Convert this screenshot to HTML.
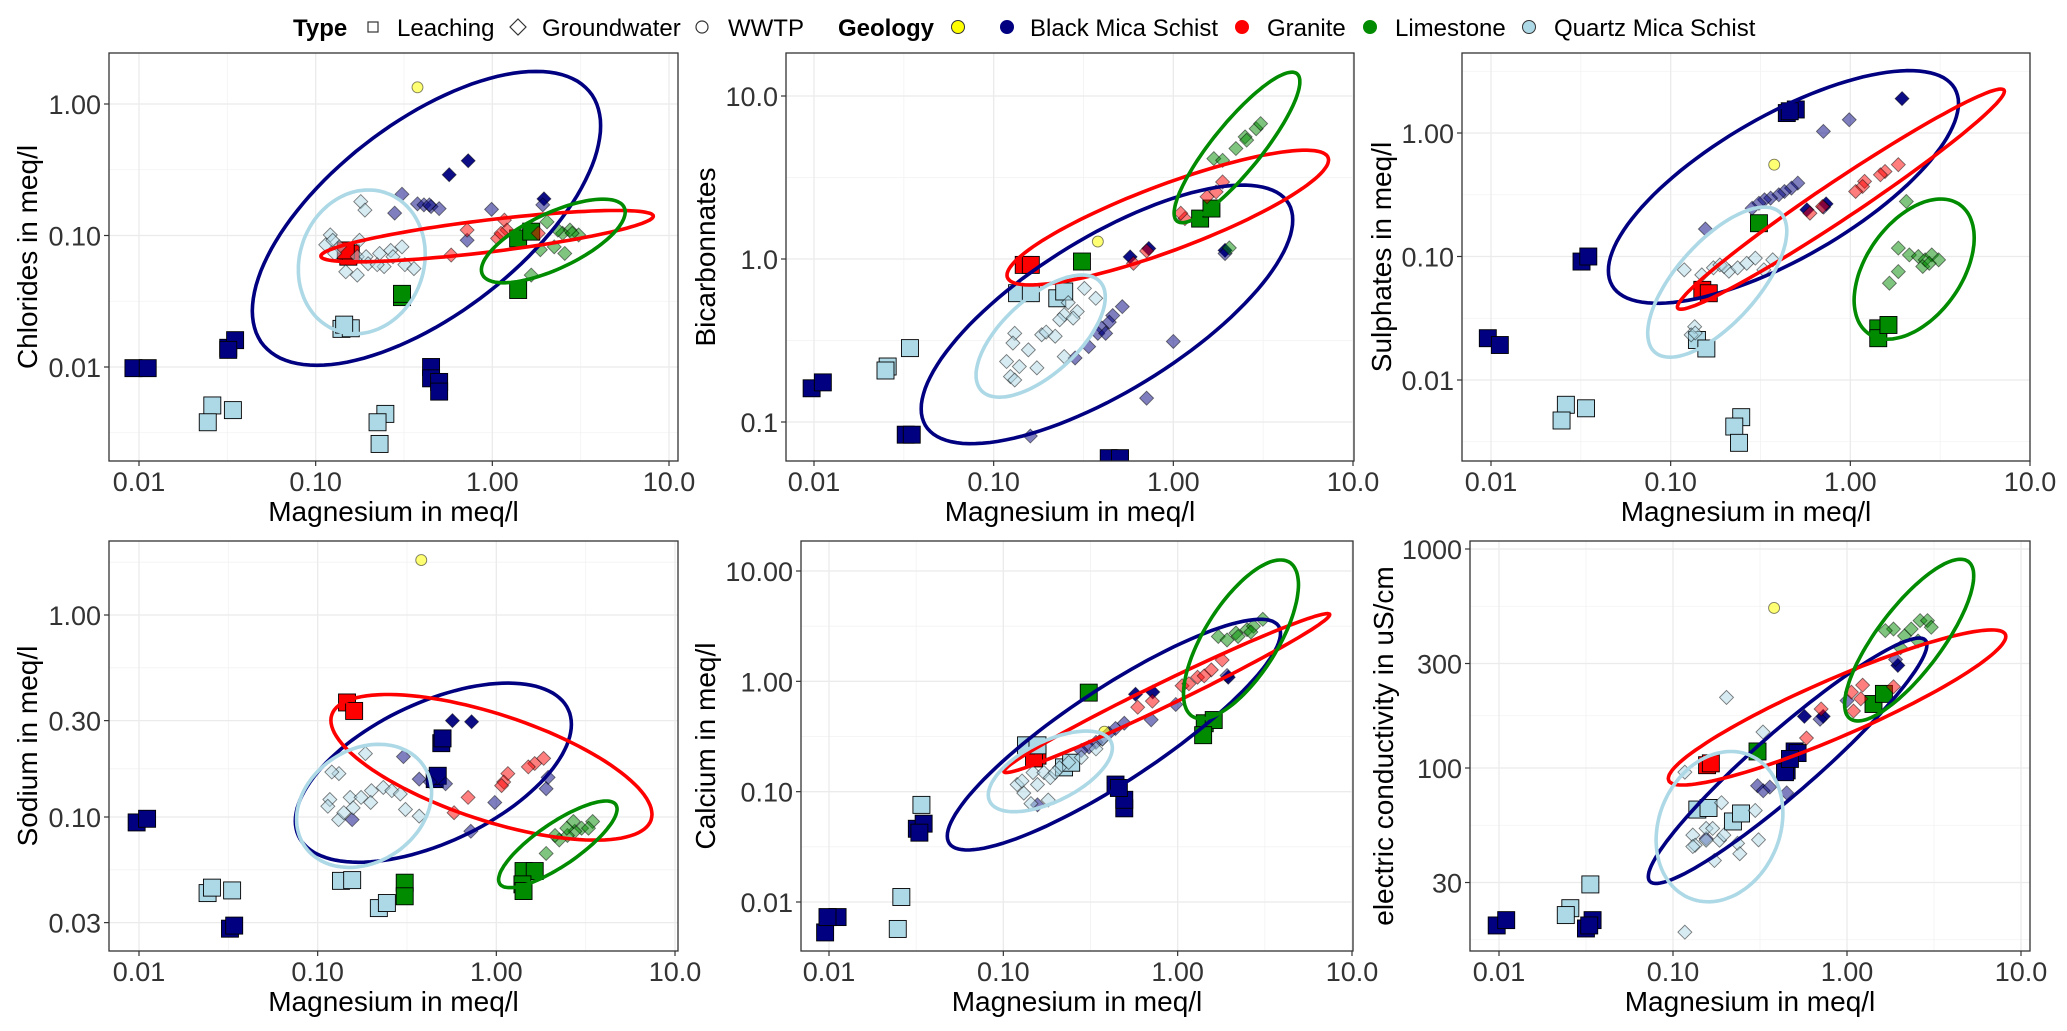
<!DOCTYPE html>
<html><head><meta charset="utf-8">
<style>
html,body{margin:0;padding:0;background:#fff;}
svg{display:block;font-family:"Liberation Sans",Arial,sans-serif;}
</style></head>
<body>
<svg id="chart" width="2067" height="1031" viewBox="0 0 2067 1031" xmlns="http://www.w3.org/2000/svg">
<rect x="0" y="0" width="2067" height="1031" fill="#fff"/>
<g id="legend">
  <text x="293" y="36" font-size="24" font-weight="bold" fill="#000">Type</text>
  <rect x="368" y="22" width="10" height="10" fill="none" stroke="#333" stroke-width="1.2"/>
  <text x="397" y="36" font-size="24" fill="#000">Leaching</text>
  <path d="M518 19 L526 27 L518 35 L510 27 Z" fill="none" stroke="#333" stroke-width="1.2"/>
  <text x="542" y="36" font-size="24" fill="#000">Groundwater</text>
  <circle cx="702" cy="27" r="6" fill="none" stroke="#333" stroke-width="1.2"/>
  <text x="728" y="36" font-size="24" fill="#000">WWTP</text>
  <text x="838" y="36" font-size="24" font-weight="bold" fill="#000">Geology</text>
  <circle cx="958" cy="27" r="6.5" fill="#FFFF00" stroke="#333" stroke-width="1"/>
  <circle cx="1007" cy="27" r="6.5" fill="#000080" stroke="#000080"/>
  <text x="1030" y="36" font-size="24" fill="#000">Black Mica Schist</text>
  <circle cx="1242" cy="27" r="6.5" fill="#FF0000" stroke="#FF0000"/>
  <text x="1267" y="36" font-size="24" fill="#000">Granite</text>
  <circle cx="1370" cy="27" r="6.5" fill="#008B00" stroke="#008B00"/>
  <text x="1395" y="36" font-size="24" fill="#000">Limestone</text>
  <circle cx="1529" cy="27" r="6.5" fill="#ADD8E6" stroke="#333" stroke-width="1"/>
  <text x="1554" y="36" font-size="24" fill="#000">Quartz Mica Schist</text>
</g>
</svg>
<script>
// ---------- DATA (Mg in meq/l vs. y variable), geology: B navy, D navy (dense), R granite, G limestone, Q quartz ----------
const chlLeach = [[0.0093,0.0098,'B'],[0.0112,0.0098,'B'],[0.032,0.014,'B'],[0.035,0.016,'B'],[0.032,0.0135,'B'],[0.45,0.010,'B'],[0.45,0.0082,'B'],[0.50,0.0077,'B'],[0.50,0.0065,'B'],
[0.026,0.0051,'Q'],[0.0245,0.0038,'Q'],[0.034,0.0047,'Q'],[0.248,0.0044,'Q'],[0.224,0.0038,'Q'],[0.23,0.0026,'Q'],[0.14,0.0195,'Q'],[0.158,0.0197,'Q'],[0.145,0.021,'Q'],
[0.153,0.069,'R'],[0.158,0.073,'R'],[0.148,0.077,'R'],
[0.308,0.034,'G'],[0.308,0.036,'G'],[1.40,0.0385,'G'],[1.40,0.095,'G'],[1.66,0.107,'G']];
const chlGw = [[0.57,0.29,'D'],[0.73,0.37,'D'],[1.96,0.19,'D'],
[0.308,0.206,'B'],[0.28,0.148,'B'],[0.377,0.174,'B'],[0.41,0.171,'B'],[0.45,0.166,'B'],[0.50,0.16,'B'],[0.99,0.158,'B'],[0.72,0.092,'B'],[1.93,0.171,'B'],[0.44,0.171,'B'],
[0.72,0.11,'R'],[1.17,0.131,'R'],[1.07,0.095,'R'],[1.21,0.11,'R'],[0.585,0.071,'R'],[1.82,0.104,'R'],[1.12,0.104,'R'],
[2.04,0.127,'G'],[2.24,0.082,'G'],[2.57,0.073,'G'],[2.75,0.11,'G'],[3.08,0.101,'G'],[1.66,0.05,'G'],[1.87,0.078,'G'],[2.5,0.104,'G'],[2.35,0.11,'G'],[2.83,0.104,'G'],
[0.18,0.181,'Q'],[0.19,0.156,'Q'],[0.121,0.101,'Q'],[0.114,0.085,'Q'],[0.125,0.092,'Q'],[0.136,0.082,'Q'],[0.177,0.092,'Q'],[0.172,0.069,'Q'],[0.193,0.069,'Q'],[0.23,0.073,'Q'],[0.266,0.077,'Q'],[0.308,0.082,'Q'],[0.244,0.058,'Q'],[0.32,0.06,'Q'],[0.36,0.056,'Q'],[0.148,0.053,'Q'],[0.172,0.05,'Q'],[0.198,0.061,'Q'],[0.223,0.06,'Q'],[0.274,0.069,'Q'],[0.128,0.073,'Q']];
const chlWwtp = [[0.377,1.34]];
const chlEll = [[0.0438,4.10,0.0103,1.77,1.77,'B'],[0.0798,0.417,0.0179,0.222,0.199,'Q'],[0.107,8.15,0.0631,0.155,5.04,'R'],[0.867,5.65,0.0437,0.189,4.23,'G']];

const bicLeach = [[0.0097,0.161,'B'],[0.0112,0.175,'B'],[0.0324,0.0836,'B'],[0.035,0.0836,'B'],[0.437,0.060,'B'],[0.505,0.060,'B'],
[0.0342,0.284,'Q'],[0.0257,0.219,'Q'],[0.025,0.207,'Q'],[0.135,0.617,'Q'],[0.161,0.617,'Q'],[0.226,0.574,'Q'],[0.247,0.632,'Q'],
[0.147,0.92,'R'],[0.161,0.92,'R'],[0.31,0.965,'G'],[1.41,1.77,'G'],[1.63,2.04,'G']];
const bicGw = [[0.575,1.03,'D'],[0.73,1.16,'D'],[1.94,1.13,'D'],
[0.52,0.51,'B'],[0.46,0.45,'B'],[0.44,0.41,'B'],[0.40,0.377,'B'],[0.38,0.35,'B'],[0.42,0.35,'B'],[0.338,0.29,'B'],[0.284,0.247,'B'],[1.0,0.312,'B'],[0.71,0.14,'B'],[0.16,0.082,'B'],[1.94,1.08,'B'],
[1.16,1.77,'R'],[1.10,1.91,'R'],[1.54,2.41,'R'],[1.88,2.97,'R'],[1.73,2.58,'R'],[0.6,0.94,'R'],[0.71,1.12,'R'],
[1.68,4.13,'G'],[1.88,4.03,'G'],[2.23,4.76,'G'],[2.51,5.61,'G'],[2.89,6.3,'G'],[3.06,6.77,'G'],[2.56,5.36,'G'],[2.05,1.17,'G'],
[0.32,0.66,'Q'],[0.37,0.574,'Q'],[0.292,0.476,'Q'],[0.247,0.455,'Q'],[0.233,0.424,'Q'],[0.277,0.434,'Q'],[0.185,0.343,'Q'],[0.196,0.356,'Q'],[0.156,0.277,'Q'],[0.131,0.35,'Q'],[0.128,0.305,'Q'],[0.139,0.219,'Q'],[0.118,0.235,'Q'],[0.174,0.215,'Q'],[0.124,0.19,'Q'],[0.131,0.181,'Q'],[0.247,0.252,'Q'],[0.22,0.336,'Q'],[0.26,0.54,'Q']];
const bicWwtp = [[0.38,1.28]];
const bicEll = [[0.0395,4.62,0.0736,2.84,2.43,'B'],[0.1186,7.31,0.693,4.65,5.42,'R'],[1.01,5.06,1.67,14.0,4.57,'G'],[0.0798,0.418,0.142,0.797,0.31,'Q']];

const sulLeach = [[0.0096,0.0218,'B'],[0.0112,0.0192,'B'],[0.0319,0.091,'B'],[0.0348,0.1,'B'],[0.443,1.45,'B'],[0.497,1.55,'B'],[0.46,1.5,'B'],
[0.0261,0.0063,'Q'],[0.0247,0.0047,'Q'],[0.0338,0.0059,'Q'],[0.247,0.005,'Q'],[0.226,0.0042,'Q'],[0.24,0.0031,'Q'],[0.14,0.0211,'Q'],[0.158,0.018,'Q'],
[0.15,0.0537,'R'],[0.163,0.0504,'R'],[0.31,0.186,'G'],[1.43,0.0262,'G'],[1.43,0.0218,'G'],[1.63,0.0279,'G']];
const sulGw = [[1.94,1.90,'D'],[0.573,0.239,'D'],[0.733,0.267,'D'],
[0.986,1.28,'B'],[0.708,1.03,'B'],[0.51,0.393,'B'],[0.47,0.358,'B'],[0.43,0.336,'B'],[0.40,0.316,'B'],[0.36,0.297,'B'],[0.333,0.288,'B'],[0.31,0.27,'B'],[0.284,0.246,'B'],[0.156,0.167,'B'],[0.71,0.251,'B'],
[1.85,0.554,'R'],[1.56,0.488,'R'],[1.47,0.459,'R'],[1.2,0.406,'R'],[1.17,0.369,'R'],[1.07,0.336,'R'],[0.7,0.254,'R'],[0.596,0.224,'R'],
[2.05,0.279,'G'],[1.85,0.117,'G'],[1.85,0.0755,'G'],[1.65,0.0608,'G'],[2.13,0.103,'G'],[2.39,0.1,'G'],[2.61,0.094,'G'],[2.84,0.103,'G'],[3.1,0.094,'G'],[2.53,0.083,'G'],[2.75,0.088,'G'],
[0.119,0.078,'Q'],[0.149,0.071,'Q'],[0.173,0.081,'Q'],[0.188,0.0855,'Q'],[0.211,0.076,'Q'],[0.236,0.081,'Q'],[0.265,0.088,'Q'],[0.296,0.097,'Q'],[0.33,0.078,'Q'],[0.37,0.094,'Q'],[0.136,0.027,'Q'],[0.13,0.0232,'Q'],[0.137,0.024,'Q'],[0.198,0.083,'Q']];
const sulWwtp = [[0.377,0.554]];
const sulEll = [[0.045,4.0,0.0418,3.2,2.13,'B'],[0.109,7.2,0.0374,2.27,6.89,'R'],[1.05,4.89,0.0214,0.292,3.19,'G'],[0.0745,0.443,0.0153,0.251,0.333,'Q']];

const sodLeach = [[0.0097,0.094,'B'],[0.0111,0.098,'B'],[0.0323,0.028,'B'],[0.0341,0.029,'B'],[0.492,0.232,'B'],[0.50,0.245,'B'],[0.452,0.154,'B'],[0.47,0.16,'B'],
[0.0242,0.042,'Q'],[0.0256,0.0447,'Q'],[0.0332,0.0433,'Q'],[0.135,0.0483,'Q'],[0.156,0.0487,'Q'],[0.22,0.0354,'Q'],[0.244,0.0375,'Q'],
[0.146,0.369,'R'],[0.16,0.335,'R'],[0.307,0.0473,'G'],[0.307,0.0405,'G'],[1.42,0.054,'G'],[1.64,0.054,'G'],[1.40,0.0464,'G'],[1.42,0.043,'G']];
const sodGw = [[0.568,0.30,'D'],[0.727,0.296,'D'],
[0.302,0.199,'B'],[0.37,0.154,'B'],[0.427,0.149,'B'],[0.52,0.146,'B'],[0.98,0.118,'B'],[0.72,0.085,'B'],[1.95,0.157,'B'],[1.9,0.138,'B'],[0.156,0.097,'B'],
[1.84,0.195,'R'],[1.64,0.184,'R'],[1.51,0.177,'R'],[1.16,0.164,'R'],[1.10,0.149,'R'],[1.07,0.143,'R'],[0.695,0.125,'R'],[0.58,0.105,'R'],
[3.46,0.095,'G'],[3.0,0.088,'G'],[2.75,0.085,'G'],[2.5,0.081,'G'],[2.25,0.077,'G'],[2.13,0.081,'G'],[1.90,0.066,'G'],[3.28,0.088,'G'],[2.7,0.095,'G'],[2.48,0.088,'G'],
[0.1315,0.164,'Q'],[0.12,0.167,'Q'],[0.185,0.206,'Q'],[0.117,0.122,'Q'],[0.114,0.113,'Q'],[0.152,0.125,'Q'],[0.175,0.125,'Q'],[0.20,0.135,'Q'],[0.233,0.14,'Q'],[0.26,0.135,'Q'],[0.29,0.13,'Q'],[0.31,0.109,'Q'],[0.37,0.101,'Q'],[0.131,0.097,'Q'],[0.14,0.105,'Q'],[0.158,0.111,'Q'],[0.198,0.118,'Q']];
const sodWwtp = [[0.38,1.87]];
const sodEll = [[0.075,2.63,0.0597,0.46,1.16,'B'],[0.1186,7.43,0.0768,0.404,0.247,'R'],[1.03,4.74,0.0447,0.12,4.11,'G'],[0.0762,0.434,0.0563,0.229,0.22,'Q']];

const calLeach = [[0.0095,0.0053,'B'],[0.0112,0.0073,'B'],[0.0098,0.0073,'B'],[0.0319,0.0461,'B'],[0.0349,0.0513,'B'],[0.033,0.0425,'B'],[0.44,0.116,'B'],[0.494,0.0706,'B'],[0.494,0.0844,'B'],[0.46,0.108,'B'],
[0.157,0.212,'R'],[0.15,0.2,'R'],
[0.0339,0.0759,'Q'],[0.026,0.0111,'Q'],[0.0248,0.0057,'Q'],[0.135,0.263,'Q'],[0.157,0.263,'Q'],[0.223,0.166,'Q'],[0.245,0.183,'Q'],
[0.309,0.79,'G'],[1.43,0.417,'G'],[1.61,0.446,'G'],[1.40,0.325,'G']];
const calGw = [[0.573,0.764,'D'],[0.72,0.8,'D'],[1.95,1.09,'D'],
[0.705,0.448,'B'],[0.975,0.617,'B'],[0.494,0.417,'B'],[0.44,0.374,'B'],[0.402,0.338,'B'],[0.37,0.30,'B'],[0.34,0.28,'B'],[0.31,0.254,'B'],[0.28,0.236,'B'],[0.157,0.076,'B'],[1.92,1.13,'B'],
[0.59,0.582,'R'],[0.716,0.661,'R'],[1.06,0.912,'R'],[1.16,0.95,'R'],[1.3,1.09,'R'],[1.56,1.27,'R'],[1.8,1.56,'R'],[1.42,1.12,'R'],
[1.71,2.55,'G'],[1.92,2.37,'G'],[2.16,2.74,'G'],[2.5,2.94,'G'],[2.72,3.16,'G'],[3.08,3.65,'G'],[2.22,2.55,'G'],[2.63,2.8,'G'],
[0.12,0.116,'Q'],[0.131,0.097,'Q'],[0.148,0.149,'Q'],[0.171,0.149,'Q'],[0.186,0.134,'Q'],[0.21,0.165,'Q'],[0.237,0.184,'Q'],[0.28,0.204,'Q'],[0.34,0.244,'Q'],[0.37,0.30,'Q'],[0.144,0.078,'Q'],[0.181,0.084,'Q'],[0.157,0.116,'Q'],[0.198,0.149,'Q'],[0.128,0.125,'Q']];
const calWwtp = [[0.38,0.35]];
const calEll = [[0.0477,3.89,0.0296,3.65,2.98,'B'],[0.1007,7.45,0.149,4.11,7.23,'R'],[1.08,4.93,0.457,12.6,3.89,'G'],[0.082,0.422,0.0658,0.354,0.30,'Q']];

const ecLeach = [[0.0097,19.1,'B'],[0.011,20.2,'B'],[0.0316,18.5,'B'],[0.0345,20.2,'B'],[0.033,19.1,'B'],[0.50,119,'B'],[0.45,97.5,'B'],[0.44,95.7,'B'],[0.52,117,'B'],[0.47,110,'B'],
[0.0335,29.4,'Q'],[0.0257,22.9,'Q'],[0.0242,21.3,'Q'],[0.138,64.6,'Q'],[0.16,65.7,'Q'],[0.221,57,'Q'],[0.246,62,'Q'],
[0.157,103,'R'],[0.165,105,'R'],[0.306,119,'G'],[1.42,196,'G'],[1.63,218,'G']];
const ecGw = [[0.569,172,'D'],[0.73,172,'D'],[1.96,294,'D'],
[0.306,83,'B'],[0.33,78.7,'B'],[0.36,81.8,'B'],[0.45,77,'B'],[0.70,167,'B'],[1.0,203,'B'],[1.9,313,'B'],[0.155,47.6,'B'],
[0.71,186,'R'],[0.585,137,'R'],[1.06,222,'R'],[1.23,239,'R'],[1.2,207,'R'],[1.85,235,'R'],[1.09,182,'R'],
[1.85,431,'G'],[1.66,424,'G'],[2.14,401,'G'],[2.34,431,'G'],[2.63,471,'G'],[2.9,471,'G'],[3.05,439,'G'],[2.03,354,'G'],[2.56,380,'G'],
[0.203,210,'Q'],[0.329,146,'Q'],[0.117,95.7,'Q'],[0.19,69.4,'Q'],[0.155,53,'Q'],[0.169,53,'Q'],[0.13,49.4,'Q'],[0.134,44.4,'Q'],[0.185,46.8,'Q'],[0.196,49.4,'Q'],[0.235,45.3,'Q'],[0.242,40.6,'Q'],[0.31,47,'Q'],[0.297,64,'Q'],[0.173,37.8,'Q'],[0.117,17.8,'Q'],[0.13,43.8,'Q'],[0.155,46.8,'Q']];
const ecWwtp = [[0.381,538]];
const ecEll = [[0.0721,2.88,29.7,392,2.6,'B'],[0.094,8.18,83.6,427,6.78,'R'],[0.969,5.35,164,898,4.49,'G'],[0.080,0.428,24.5,119,0.215,'Q']];

const xTickValues = [0.01,0.1,1,10];
const xTickLabels = ['0.01','0.10','1.00','10.0'];
const chlTicks = [0.01,0.1,1], chlLabels = ['0.01','0.10','1.00'];
const bicTicks = [0.1,1,10], bicLabels = ['0.1','1.0','10.0'];
const sulTicks = [0.01,0.1,1], sulLabels = ['0.01','0.10','1.00'];
const sodTicks = [0.03,0.1,0.3,1], sodLabels = ['0.03','0.10','0.30','1.00'];
const calTicks = [0.01,0.1,1,10], calLabels = ['0.01','0.10','1.00','10.00'];
const ecTicks = [30,100,300,1000], ecLabels = ['30','100','300','1000'];

// ---------- LAYOUT ----------
const COLORS = {B:'#000080',D:'#000080',R:'#FF0000',G:'#008B00',Q:'#ADD8E6'};
const panels = [
 {key:'chlorides',title:'Chlorides in meq/l',box:[109,53,678,461],xr:[139,669],yref:[0,104,-2,367],tx:27,leach:chlLeach,gw:chlGw,ww:chlWwtp,ell:chlEll,ticks:chlTicks,labels:chlLabels},
 {key:'bicarbonates',title:'Bicarbonnates',box:[786,53,1354,461],xr:[814,1353],yref:[1,96,-1,422],tx:705,leach:bicLeach,gw:bicGw,ww:bicWwtp,ell:bicEll,ticks:bicTicks,labels:bicLabels},
 {key:'sulphates',title:'Sulphates in meq/l',box:[1462,53,2030,461],xr:[1491,2030],yref:[0,133,-2,380],tx:1381,leach:sulLeach,gw:sulGw,ww:sulWwtp,ell:sulEll,ticks:sulTicks,labels:sulLabels},
 {key:'sodium',title:'Sodium in meq/l',box:[109,541,678,951],xr:[139,675],yref:[0,615,-1,817],tx:27,leach:sodLeach,gw:sodGw,ww:sodWwtp,ell:sodEll,ticks:sodTicks,labels:sodLabels},
 {key:'calcium',title:'Calcium in meq/l',box:[801,541,1353,951],xr:[829,1352],yref:[1,571,-2,902],tx:705,leach:calLeach,gw:calGw,ww:calWwtp,ell:calEll,ticks:calTicks,labels:calLabels},
 {key:'conductivity',title:'electric conductivity in uS/cm',box:[1470,541,2030,951],xr:[1499,2021],yref:[3,549,2,768],tx:1383,leach:ecLeach,gw:ecGw,ww:ecWwtp,ell:ecEll,ticks:ecTicks,labels:ecLabels}
];
const NS='http://www.w3.org/2000/svg';
const svg=document.getElementById('chart');
function mk(tag,attrs,parent){const e=document.createElementNS(NS,tag);for(const k in attrs)e.setAttribute(k,attrs[k]);(parent||svg).appendChild(e);return e;}

panels.forEach((p,pi)=>{
  const [L,T,R,B]=p.box;
  const xs=v=>p.xr[0]+(Math.log10(v)+2)*(p.xr[1]-p.xr[0])/3;
  const ky=(p.yref[3]-p.yref[1])/(p.yref[2]-p.yref[0]);
  const ysl=l=>p.yref[1]+(l-p.yref[0])*ky;
  const ys=v=>ysl(Math.log10(v));
  const g=mk('g',{});
  
  
  const clipId='clip'+pi;
  const cp=mk('clipPath',{id:clipId},g);mk('rect',{x:L,y:T,width:R-L,height:B-T},cp);
  const bg=mk('rect',{x:L,y:T,width:R-L,height:B-T,fill:'#fff'},g);
  
  
  // grid
  const grid=mk('g',{'clip-path':'url(#'+clipId+')'},g);
  
  
  const xl=xTickValues.map(v=>Math.log10(v));
  const xMin=[-2.5,-1.5,-0.5,0.5];
  xMin.forEach(l=>{const x=p.xr[0]+(l+2)*(p.xr[1]-p.xr[0])/3;mk('line',{x1:x,x2:x,y1:T,y2:B,stroke:'#F2F2F2','stroke-width':0.8},grid);});
  const yl=p.ticks.map(v=>Math.log10(v));
  const ext=[yl[0]-(yl[1]-yl[0])].concat(yl,[yl[yl.length-1]+(yl[yl.length-1]-yl[yl.length-2])]);
  for(let i=0;i<ext.length-1;i++){const m=(ext[i]+ext[i+1])/2;const y=ysl(m);if(y>T&&y<B)mk('line',{x1:L,x2:R,y1:y,y2:y,stroke:'#F2F2F2','stroke-width':0.8},grid);}
  xl.forEach(l=>{const x=p.xr[0]+(l+2)*(p.xr[1]-p.xr[0])/3;mk('line',{x1:x,x2:x,y1:T,y2:B,stroke:'#EBEBEB','stroke-width':1.3},grid);});
  yl.forEach(l=>{const y=ysl(l);mk('line',{x1:L,x2:R,y1:y,y2:y,stroke:'#EBEBEB','stroke-width':1.3},grid);});
  // marks
  const marks=mk('g',{'clip-path':'url(#'+clipId+')'},g);
  p.leach.forEach(d=>{
    const x=xs(d[0]),y=ys(d[1]);
    const r=mk('rect',{x:x-8.5,y:y-8.5,width:17,height:17,fill:COLORS[d[2]],stroke:'#000','stroke-width':0.9},marks);
    
    
  });
  p.gw.forEach(d=>{
    const x=xs(d[0]),y=ys(d[1]),h=7;
    const op=d[2]==='D'?0.95:0.5;
    const dm=mk('path',{d:`M${x} ${y-h}L${x+h} ${y}L${x} ${y+h}L${x-h} ${y}Z`,fill:COLORS[d[2]],'fill-opacity':op,stroke:'#000','stroke-opacity':0.5,'stroke-width':0.9},marks);
    
    
  });
  p.ww.forEach(d=>{
    const c=mk('circle',{cx:xs(d[0]),cy:ys(d[1]),r:5.5,fill:'#FFFF00','fill-opacity':0.55,stroke:'#000','stroke-opacity':0.5,'stroke-width':0.9},marks);
    
    
  });
  p.ell.forEach(e=>{
    const lx0=Math.log10(e[0]),lx1=Math.log10(e[1]),ly0=Math.log10(e[2]),ly1=Math.log10(e[3]),lt=Math.log10(e[4]);
    const cx=(lx0+lx1)/2,A=(lx1-lx0)/2,cy=(ly0+ly1)/2,Bb=(ly1-ly0)/2;
    const phi=Math.acos(Math.max(-1,Math.min(1,(lt-cx)/A)));
    let dstr='';
    for(let i=0;i<=120;i++){const t=i/120*2*Math.PI;const lx=cx+A*Math.cos(t),ly=cy+Bb*Math.cos(t-phi);
      const px=p.xr[0]+(lx+2)*(p.xr[1]-p.xr[0])/3,py=ysl(ly);dstr+=(i?'L':'M')+px.toFixed(1)+' '+py.toFixed(1);}
    const el=mk('path',{d:dstr+'Z',fill:'none',stroke:COLORS[e[5]],'stroke-width':3.6},marks);
    
    
  });
  // border
  const br=mk('rect',{x:L,y:T,width:R-L,height:B-T,fill:'none',stroke:'#333','stroke-width':1.3},g);
  
  
  // x axis
  xTickValues.forEach((v,i)=>{const x=xs(v);
    mk('line',{x1:x,x2:x,y1:B,y2:B+5,stroke:'#333','stroke-width':1.2},g);
    const t=mk('text',{x:x,y:B+30,'text-anchor':'middle','font-size':27,fill:'#333'},g);t.textContent=xTickLabels[i];
    
    
  });
  const xt=mk('text',{x:(L+R)/2,y:B+60,'text-anchor':'middle','font-size':28,fill:'#000'},g);xt.textContent='Magnesium in meq/l';
  
  
  // y axis
  p.ticks.forEach((v,i)=>{const y=ys(v);
    mk('line',{x1:L-5,x2:L,y1:y,y2:y,stroke:'#333','stroke-width':1.2},g);
    const t=mk('text',{x:L-8,y:y+10,'text-anchor':'end','font-size':27,fill:'#333'},g);t.textContent=p.labels[i];
    
    
  });
  const cyT=(T+B)/2;
  const yt=mk('text',{x:p.tx,y:cyT,'text-anchor':'middle','font-size':28,fill:'#000',transform:`rotate(-90 ${p.tx} ${cyT})`,dy:'10'},g);yt.textContent=p.title;
  
  
});
</script>
</body></html>
